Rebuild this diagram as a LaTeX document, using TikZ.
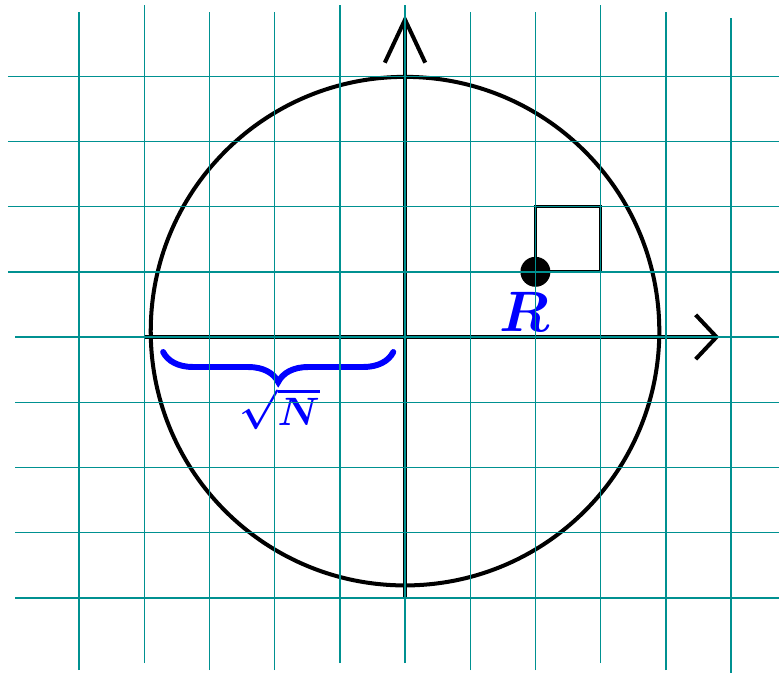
\documentclass[tikz,border=0pt]{standalone}
\usepackage{amsmath}
\usepackage{amssymb}
\usetikzlibrary{arrows.meta, decorations.pathreplacing}
\definecolor{gridteal}{RGB}{0,145,145}

\begin{document}
\begin{tikzpicture}[
    gridline/.style={draw=gridteal, line width=0.6pt},
    thickline/.style={line width=1.75pt},
    axis/.style={thickline},
    lbl/.style={text=blue, inner sep=0pt},
    bracepen/.style={blue, line width=2.6pt, line cap=round}
]
\useasboundingbox (-6.212,-5.153) rectangle (5.736,5.169);

% --- Circle
\draw[thickline] (0,0.09) circle (3.9);

% --- Axes
\coordinate (xstart) at (-4,0);
\coordinate (xend) at (4.82,0);
\coordinate (ystart) at (0,-4);
\coordinate (yend) at (0,4.94);
\draw[axis, -{Straight Barb[length=0.32cm,width=0.68cm]}] (xstart) -- (xend);
\draw[axis, -{Straight Barb[length=0.66cm,width=0.62cm]}] (ystart) -- (yend);

% --- Unit square and point
\draw[line width=1.4pt] (2,1) rectangle (3,2);
\node[circle, fill=black, minimum size=0.46cm, inner sep=0pt] (pt) at (2,1) {};
\node[lbl, font=\boldmath\Huge] (lblR) at (1.83,0.38) {$R$};

% --- Brace
\coordinate (braceL) at (-3.71,-0.23);
\coordinate (braceR) at (-0.18,-0.23);
\draw[bracepen, decorate, decoration={brace, mirror, amplitude=0.46cm}]
    (braceL) -- (braceR);
\node[lbl, font=\boldmath\LARGE] (lblN) at (-1.92,-1.10) {$\sqrt{N}$};

% --- Grid on top
\foreach \x/\ya/\yb in {-5/4.985/-5.11, -4/5.09/-5.0, -3/4.985/-5.11,
    -2/4.985/-5.11, -1/5.09/-5.0, 0/5.09/-5.0, 1/4.985/-5.11,
    2/4.985/-5.11, 3/5.09/-5.0, 4/4.985/-5.11, 5/4.89/-5.15}
  \draw[gridline] (\x,\yb) -- (\x,\ya);
\foreach \y/\xa in {4/-6.09, 3/-6.09, 2/-6.09, 1/-6.09, 0/-5.98,
    -1/-5.98, -2/-5.98, -3/-5.98, -4/-5.98}
  \draw[gridline] (\xa,\y) -- (5.8,\y);

\end{tikzpicture}
\end{document}
